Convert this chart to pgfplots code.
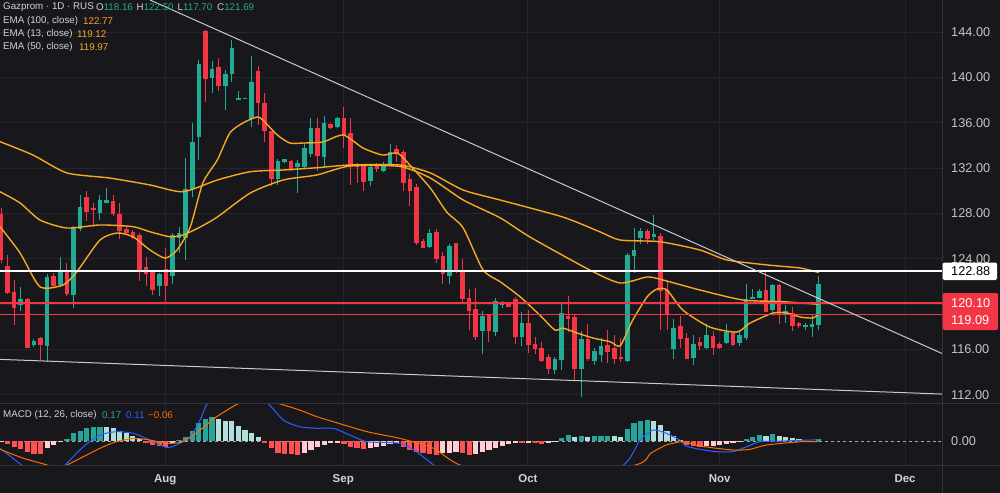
\documentclass[border=0pt]{standalone}
\usepackage{pgfplots}
\pgfplotsset{compat=1.18}
\usepackage{pgfplotstable}
\usepackage{fontspec}
\setmainfont{Liberation Sans}
\definecolor{bgc}{HTML}{17171C}
\definecolor{gridc}{HTML}{25252B}
\definecolor{sepc}{HTML}{34343B}
\definecolor{txt}{HTML}{D1D4DC}
\definecolor{axt}{HTML}{C3C5CB}
\definecolor{upc}{HTML}{22AB94}
\definecolor{dnc}{HTML}{F23645}
\definecolor{emac}{HTML}{F7A823}
\definecolor{trendc}{HTML}{C8CAD0}
\definecolor{hteal}{HTML}{26A69A}
\definecolor{hlteal}{HTML}{B2DFDB}
\definecolor{hred}{HTML}{FF5252}
\definecolor{hpink}{HTML}{FFCDD2}
\definecolor{macdc}{HTML}{2962FF}
\definecolor{sigc}{HTML}{FF6D00}
\newcommand{\lfont}{\fontsize{9.8}{11}\selectfont}
\newcommand{\tfont}{\fontsize{12.8}{14}\selectfont}

\pgfplotstableread{
i o h l c
3 120.0 121.5 119.4 120.4
5 116.4 116.9 116.2 116.7
7 116.3 122.6 114.9 122.3
9 121.75 124.1 121.5 122.85
11 120.8 126.9 119.6 126.7
12 126.7 129.6 126.4 128.5
15 128.1 129.6 127.4 129.1
16 129.0 130.2 128.9 129.1
24 121.6 122.7 120.7 122.6
26 122.5 126.3 121.8 126.0
27 125.9 126.8 124.5 126.2
28 125.9 132.9 123.9 130.05
29 130.2 136.0 129.4 134.2
30 134.75 141.5 132.7 141.1
32 140.0 141.4 138.6 140.7
34 139.3 140.6 137.1 140.2
35 140.35 143.3 139.6 142.5
36 138.05 138.8 138.0 138.1
37 138.1 138.2 138.05 138.15
38 136.4 141.9 135.6 139.5
42 131.1 132.8 130.5 132.55
43 132.55 132.8 132.4 132.7
45 132.1 132.7 129.8 132.4
46 132.1 134.2 131.9 133.7
47 133.3 136.4 133.0 135.5
49 133.0 136.6 132.1 135.9
51 135.7 136.5 135.5 136.4
56 130.9 132.25 130.4 132.0
58 131.8 132.5 131.6 132.25
59 132.25 134.1 132.1 133.4
65 125.05 126.6 124.9 126.2
68 122.55 125.3 121.8 125.05
73 117.7 119.4 115.6 118.9
75 117.55 120.5 117.2 120.2
76 119.95 120.3 119.6 120.15
79 117.1 119.3 116.3 118.25
84 114.2 115.3 113.85 115.05
85 115.1 120.0 114.2 119.15
88 114.3 117.6 111.8 116.9
90 115.05 116.1 114.6 115.8
91 115.55 117.0 114.9 116.2
95 115.05 124.5 114.9 124.3
96 124.3 126.7 122.7 124.75
97 125.9 126.7 125.3 126.35
99 125.95 127.85 125.5 126.15
102 116.1 118.7 115.1 117.85
105 115.3 117.3 114.6 116.45
107 116.2 118.2 116.0 117.25
110 116.6 118.2 116.5 117.5
112 116.6 117.6 116.3 117.2
113 117.05 121.8 116.8 120.4
114 120.45 121.3 120.4 120.55
115 120.6 121.3 120.5 121.1
117 119.5 121.8 119.1 121.6
119 119.1 119.9 118.3 119.3
122 118.0 118.3 117.7 118.05
123 118.05 119.0 117.1 118.15
124 118.16 122.50 117.70 121.69
}\upt

\pgfplotstableread{
i o h l c
0 127.85 128.5 123.6 123.9
1 123.3 124.3 120.9 121.0
2 121.0 122.1 118.1 119.7
4 120.35 120.5 116.1 116.2
6 116.95 117.1 115.05 116.4
8 122.45 122.7 121.4 121.6
10 122.85 123.6 120.7 120.9
13 129.4 130.0 127.3 128.2
14 128.4 128.9 126.8 128.3
17 129.0 129.6 127.8 128.0
18 127.85 128.9 125.7 126.5
19 126.6 126.8 126.2 126.35
20 126.3 126.5 125.7 125.9
21 126.0 126.3 122.0 122.9
22 123.2 124.1 121.6 122.7
23 122.75 122.9 120.8 121.3
25 123.0 124.9 120.1 121.6
31 144.0 144.2 137.85 139.9
33 140.9 141.7 138.8 139.3
39 140.5 141.0 135.8 137.75
40 137.7 138.6 134.3 135.3
41 135.2 135.3 130.45 131.1
44 132.55 132.7 131.7 131.95
48 135.5 136.4 131.7 133.1
50 135.8 136.0 135.4 135.6
52 136.4 137.4 133.8 134.9
53 135.05 136.4 130.5 132.25
54 132.3 132.4 130.7 132.15
55 132.1 132.3 130.0 130.8
57 132.2 132.4 131.6 132.0
60 133.6 134.0 132.5 133.3
61 133.4 133.6 130.0 130.7
62 130.95 131.5 128.6 130.0
63 130.3 130.6 125.2 125.4
64 125.5 125.7 124.9 125.0
66 126.3 126.6 123.6 124.0
67 124.2 124.6 121.8 122.7
69 125.3 125.3 122.7 122.85
70 122.85 124.0 120.2 120.5
71 120.5 121.3 117.7 119.45
72 119.5 121.4 116.8 117.1
74 119.0 119.1 116.6 117.7
77 120.05 120.2 119.7 119.8
78 120.35 120.6 116.5 117.1
80 118.3 119.5 115.7 116.4
81 116.4 117.1 115.6 116.1
82 116.1 116.6 114.9 115.05
83 115.3 115.55 113.85 114.3
86 118.9 120.7 117.5 118.75
87 118.8 119.1 113.2 114.3
89 116.9 118.2 115.0 115.2
92 116.3 117.7 114.8 115.8
93 116.1 117.3 114.7 115.2
94 115.3 117.0 114.9 115.15
98 126.35 126.6 125.3 125.8
100 125.95 126.3 117.7 121.2
101 121.2 122.0 117.7 119.2
103 118.0 118.9 116.1 116.95
104 116.95 117.4 115.1 115.2
106 116.6 117.1 115.9 116.3
108 117.1 117.6 115.5 116.2
109 116.45 116.6 116.0 116.15
111 117.4 117.6 116.3 116.45
116 121.2 122.9 119.3 119.3
118 121.6 121.8 118.2 119.2
120 119.15 119.7 117.6 118.1
121 118.3 118.4 117.9 118.1
}\dnt

\pgfplotsset{chart/.style={scale only axis, width=942bp,
  xmin=-0.152, xmax=142.7, axis line style={draw=none},
  major tick length=0pt, xmajorgrids,
  grid style={gridc, line width=0.8bp},
  xtick={24.9,51.9,79.9,109,137.1},
  yticklabel pos=right, scaled y ticks=false,
  yticklabel style={font=\tfont, color=axt, anchor=west, inner sep=0pt, xshift=9bp,
    /pgf/number format/.cd, fixed, fixed zerofill, precision=2, assume math mode=true}}}

\begin{document}
\begin{tikzpicture}
\fill[bgc] (0bp,0bp) rectangle (1000bp,-493bp);

\begin{axis}[chart, at={(0bp,0bp)}, anchor=north west, height=403bp,
  ymin=111.26, ymax=146.82, ymajorgrids, ytick={112,116,...,144},
  xticklabels={}]
% wicks (low to high)
\addplot[draw=none, mark=none, forget plot, error bars/.cd, y dir=plus, y explicit, error mark=none,
  error bar style={draw=upc, line width=1bp, line cap=butt}]
  table[x=i, y=l, y error expr={\thisrow{h}-\thisrow{l}}] {\upt};
\addplot[draw=none, mark=none, forget plot, error bars/.cd, y dir=plus, y explicit, error mark=none,
  error bar style={draw=dnc, line width=1bp, line cap=butt}]
  table[x=i, y=l, y error expr={\thisrow{h}-\thisrow{l}}] {\dnt};
% bodies (open to close)
\addplot[draw=none, mark=none, forget plot, error bars/.cd, y dir=plus, y explicit, error mark=none,
  error bar style={draw=upc, line width=4.6bp, line cap=butt}]
  table[x=i, y expr={\thisrow{o}-0.05}, y error expr={\thisrow{c}-\thisrow{o}+0.1}] {\upt};
\addplot[draw=none, mark=none, forget plot, error bars/.cd, y dir=plus, y explicit, error mark=none,
  error bar style={draw=dnc, line width=4.6bp, line cap=butt}]
  table[x=i, y expr={\thisrow{c}-0.05}, y error expr={\thisrow{o}-\thisrow{c}+0.1}] {\dnt};
% EMA 100
\addplot[emac, line width=1.4bp, smooth, tension=0.4] coordinates {
(-0.15,134.32) (4.85,133.14) (10.0,131.56) (16.5,131.11) (22.6,130.50) (27.6,129.90)
(32.8,130.94) (37.8,131.67) (42.8,131.82) (47.9,132.02) (52.9,132.26) (60.5,132.26)
(65.1,131.56) (70.1,130.05) (75.7,129.17) (85.2,127.67) (90.8,126.37) (93.9,125.64)
(99.9,125.49) (106.0,124.76) (110.1,123.88) (116.2,123.44) (121.2,123.17) (124,122.77)};
% EMA 50
\addplot[emac, line width=1.4bp, smooth, tension=0.4] coordinates {
(-0.15,129.90) (2.9,128.91) (5.9,127.41) (10.0,126.70) (15.0,126.97) (20.0,126.82)
(22.6,126.37) (25.6,125.93) (27.6,126.08) (30.2,126.79) (32.8,127.67) (37.8,129.79)
(42.8,130.94) (47.9,131.38) (52.9,132.17) (60.5,132.13) (65.1,131.11) (70.1,129.17)
(75.7,127.6) (80.2,125.91) (89.3,122.99) (93.9,121.85) (98.0,122.38) (100.4,122.11)
(106.0,121.23) (112.5,120.35) (118.6,120.20) (124,119.97)};
% EMA 13
\addplot[emac, line width=1.4bp, smooth, tension=0.4] coordinates {
(-0.15,126.82) (2.9,124.49) (5.9,121.52) (9.4,121.67) (11.5,122.84) (15.0,125.64)
(17.6,126.26) (20.0,125.93) (22.6,124.76) (24.9,124.05) (26.7,124.76) (28.7,126.79)
(30.6,130.67) (32.8,132.70) (34.7,135.09) (36.7,135.97) (38.8,136.50) (39.7,136.23)
(41.9,134.91) (43.8,134.20) (45.8,134.20) (48.8,134.29) (51.9,134.91) (54.9,133.76)
(57.9,133.14) (60.1,133.32) (62.0,132.26) (65.1,130.23) (67.6,128.11) (70.1,126.70)
(73.1,123.0) (75.7,121.96) (78.7,120.64) (81.7,119.02) (84.0,117.70) (85.2,117.87)
(87.4,117.43) (89.8,116.99) (92.4,116.66) (93.9,116.31) (95.8,118.58) (98.0,120.64)
(99.5,121.32) (101.0,121.23) (103.4,119.46) (107.5,117.96) (111.6,117.52) (113.6,118.32)
(117.1,119.20) (119.2,119.20) (121.2,118.85) (123.1,118.76) (124,119.12)};
% horizontal levels
\addplot[white, line width=2bp] coordinates {(-0.152,122.88) (142.7,122.88)};
\addplot[dnc, line width=1.5bp] coordinates {(-0.152,120.10) (142.7,120.10)};
\addplot[dnc, line width=1.5bp] coordinates {(-0.152,119.09) (142.7,119.09)};
% trend lines
\addplot[trendc, line width=1bp] coordinates {(22.6,146.82) (142.7,115.63)};
\addplot[trendc, line width=1bp] coordinates {(-0.15,115.11) (142.7,112.05)};
\end{axis}

\begin{axis}[chart, at={(0bp,-403bp)}, anchor=north west, height=62bp,
  ymin=-2.0, ymax=3.17, ytick={0},
  xticklabels={Aug,Sep,Oct,Nov,Dec},
  xticklabel style={font=\bfseries\fontsize{11.5}{13}\selectfont, color=txt, anchor=base, inner sep=0pt, yshift=-17.5bp}]
\addplot[gray!70, dashed, line width=0.8bp] coordinates {(-0.152,0) (142.7,0)};
\addplot[ycomb, hteal, line width=5.2bp, line cap=butt, mark=none] coordinates {
(10,0.14) (11,0.64) (12,0.86) (13,1.06) (14,1.14) (15,1.19) (27,0.08) (28,0.36) (29,0.86)
(30,1.53) (31,1.81) (32,1.97) (85,0.22) (86,0.50) (88,0.42) (90,0.39) (91,0.39) (92,0.42)
(95,0.97) (96,1.47) (97,1.69) (98,1.75) (113,0.14) (114,0.31) (115,0.50) (117,0.56) (124,0.17)};
\addplot[ycomb, hlteal, line width=5.2bp, line cap=butt, mark=none] coordinates {
(16,1.17) (17,1.06) (18,0.86) (19,0.64) (20,0.42) (21,0.14) (33,1.81) (34,1.69) (35,1.67)
(36,1.25) (37,0.92) (38,0.69) (39,0.36) (87,0.31) (89,0.36) (93,0.42) (94,0.36) (99,1.69)
(100,1.33) (101,0.86) (102,0.42) (103,0.08) (116,0.42) (118,0.42) (119,0.36) (120,0.22) (121,0.14)};
\addplot[ycomb, hred, line width=5.2bp, line cap=butt, mark=none] coordinates {
(1,-0.25) (2,-0.47) (3,-0.69) (4,-0.89) (5,-1.08) (6,-1.11) (22,-0.19) (23,-0.33) (24,-0.42)
(25,-0.53) (40,-0.14) (41,-0.61) (42,-0.97) (43,-1.08) (44,-1.11) (45,-1.14) (52,-0.25)
(53,-0.47) (54,-0.61) (55,-0.69) (61,-0.47) (62,-0.75) (63,-0.89) (64,-1.03) (65,-1.08)
(66,-1.17) (70,-1.03) (71,-1.17) (79,-0.19) (81,-0.19) (82,-0.22) (104,-0.33) (105,-0.42)
(106,-0.47) (123,-0.11)};
\addplot[ycomb, hpink, line width=5.2bp, line cap=butt, mark=none] coordinates {
(0,-0.05) (7,-0.61) (8,-0.33) (9,-0.08) (26,-0.19) (46,-0.97) (47,-0.75) (48,-0.47) (49,-0.33)
(50,-0.19) (51,-0.14) (56,-0.61) (57,-0.53) (58,-0.42) (59,-0.28) (60,-0.19) (67,-1.03)
(68,-0.97) (69,-0.92) (72,-1.08) (73,-0.89) (74,-0.75) (75,-0.61) (76,-0.42) (77,-0.22)
(78,-0.17) (80,-0.14) (83,-0.17) (84,-0.11) (107,-0.42) (108,-0.42) (109,-0.33) (110,-0.25)
(111,-0.19) (112,-0.11) (122,-0.08)};
\addplot[macdc, line width=1bp, smooth, tension=0.4] coordinates {
(-0.15,-0.61) (3.1,-2.0) (4.4,-2.7) (7.4,-3.0) (9.7,-2.0) (12.5,-0.47) (15.0,0.5) (17.5,0.78)
(20.1,0.64) (22.6,0.08) (25.1,-0.53) (26.6,-0.33) (28.7,0.36) (30.2,1.75) (31.4,3.19) (35.2,4.8)
(40.3,3.19) (42.8,1.75) (45.3,1.19) (47.9,1.06) (50.4,1.06) (52.9,0.5) (55.5,-0.06) (60.5,-0.19)
(63.0,-0.89) (65.6,-2.0) (70.6,-4.1) (85.8,-4.1) (94.4,-2.0) (96.9,0.08) (98.9,0.92) (100.9,0.64)
(102.9,0.08) (103.9,-0.42) (106.0,-0.69) (108.5,-0.89) (111.0,-0.89) (113.1,-0.47) (115.1,-0.06)
(118.7,0.0) (124,0.11)};
\addplot[sigc, line width=1bp, smooth, tension=0.4] coordinates {
(-0.15,-0.69) (3.4,-1.44) (7.0,-2.0) (8.4,-2.3) (10.0,-2.0) (15.0,-0.61) (17.5,-0.06) (20.1,0.22)
(22.6,0.08) (25.1,-0.19) (27.6,-0.06) (30.2,0.92) (32.7,2.03) (36.2,3.19) (38.8,3.7) (41.8,3.19)
(45.3,2.58) (47.9,2.03) (50.4,1.61) (55.5,0.78) (60.5,0.22) (65.6,-0.61) (69.6,-2.0) (80,-3.5)
(96.2,-2.0) (98.5,-1.03) (100.9,-0.33) (103.4,-0.06) (106.0,-0.42) (111.0,-0.75) (113.6,-0.69)
(116.1,-0.33) (121.2,-0.06) (124,-0.06)};
\end{axis}

% panel separators
\draw[sepc, line width=0.8bp] (0bp,-403bp) -- (1000bp,-403bp);
\draw[sepc, line width=0.8bp] (0bp,-465bp) -- (1000bp,-465bp);
\draw[sepc, line width=0.8bp] (942bp,0bp) -- (942bp,-493bp);

% price labels on the scale
\fill[white, rounded corners=1.5bp] (942.5bp,-262.5bp) rectangle (997bp,-280bp);
\node[anchor=west, inner sep=0pt, font=\tfont, text=black] at (951bp,-271.2bp) {122.88};
\fill[dnc, rounded corners=1.5bp] (942.5bp,-293bp) rectangle (998bp,-330bp);
\node[anchor=west, inner sep=0pt, font=\tfont, text=white] at (951bp,-302.7bp) {120.10};
\node[anchor=west, inner sep=0pt, font=\tfont, text=white] at (951bp,-320bp) {119.09};

% legends
\begin{scope}[every node/.style={anchor=west, inner sep=0pt, font=\lfont, text=txt}]
\node at (3bp,-7bp) {Gazprom · 1D · RUS};
\node at (96bp,-7bp) {O\textcolor{upc}{118.16}};
\node at (136.5bp,-7bp) {H\textcolor{upc}{122.50}};
\node at (177.5bp,-7bp) {L\textcolor{upc}{117.70}};
\node at (217bp,-7bp) {C\textcolor{upc}{121.69}};
\node at (3bp,-21bp) {EMA (100, close)};
\node at (83bp,-21bp) {\textcolor{emac}{122.77}};
\node at (3bp,-34bp) {EMA (13, close)};
\node at (77bp,-34bp) {\textcolor{emac}{119.12}};
\node at (3bp,-47bp) {EMA (50, close)};
\node at (79bp,-47bp) {\textcolor{emac}{119.97}};
\node at (3bp,-415bp) {MACD (12, 26, close)};
\node at (102bp,-415bp) {\textcolor{hteal}{0.17}};
\node at (126bp,-415bp) {\textcolor{macdc}{0.11}};
\node at (148bp,-415bp) {\textcolor{sigc}{−0.06}};
\end{scope}

\pgfresetboundingbox
\useasboundingbox (0bp,0bp) rectangle (1000bp,-493bp);
\end{tikzpicture}
\end{document}
